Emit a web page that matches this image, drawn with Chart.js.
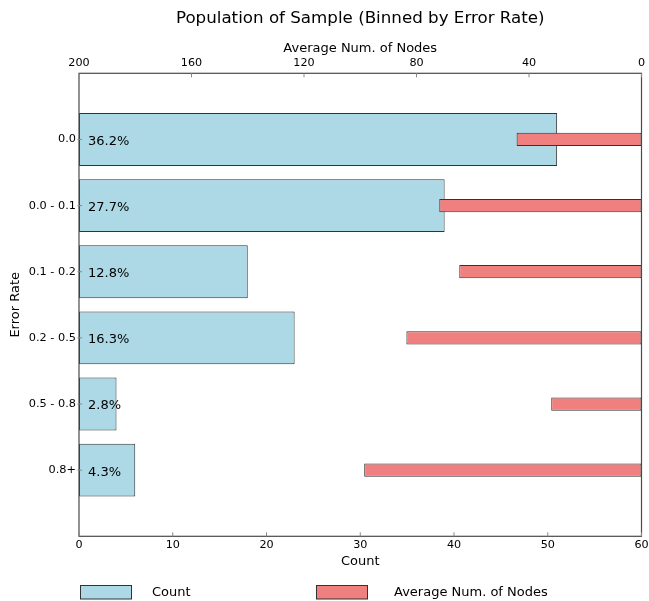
<!DOCTYPE html>
<html>
<head>
<meta charset="utf-8">
<script src="https://cdn.jsdelivr.net/npm/chart.js@4"></script>
<style>
  html, body { margin: 0; padding: 0; background: #fff; overflow: hidden; }
  canvas { display: block; }
</style>
</head>
<body>
<canvas id="popChart" width="649" height="601"></canvas>
<script>
const errorBins = ["0.0", "0.0 - 0.1", "0.1 - 0.2", "0.2 - 0.5", "0.5 - 0.8", "0.8+"];
const binCounts = [51, 39, 18, 23, 4, 6];
const avgNodes = [44.4, 71.9, 64.8, 83.6, 32.1, 98.6];
const countTicks = [0, 10, 20, 30, 40, 50, 60];
const nodeTicks = [200, 160, 120, 80, 40, 0];
const chartTitle = "Population of Sample (Binned by Error Rate)";

const FONT = "'DejaVu Sans', sans-serif";
const totalCount = binCounts.reduce((a, b) => a + b, 0);

// matplotlib-ish frame, inward ticks, title, percentage labels and legend
const extrasPlugin = {
  id: "extras",
  afterDatasetsDraw(chart) {
    const ctx = chart.ctx;
    const meta = chart.getDatasetMeta(0);
    ctx.save();
    ctx.font = "13px " + FONT;
    ctx.fillStyle = "#000";
    ctx.textBaseline = "middle";
    ctx.textAlign = "left";
    meta.data.forEach((bar, i) => {
      const pct = (binCounts[i] / totalCount * 100).toFixed(1) + "%";
      ctx.fillText(pct, chart.chartArea.left + 9, bar.y + 2);
    });
    ctx.restore();
  },
  afterDraw(chart) {
    const ctx = chart.ctx;
    const area = chart.chartArea;
    ctx.save();
    ctx.strokeStyle = "#4a4a4a";
    ctx.lineWidth = 1.2;
    ctx.strokeRect(area.left, area.top, area.right - area.left, area.bottom - area.top);

    ctx.lineWidth = 1;
    ctx.strokeStyle = "#888";
    ctx.beginPath();
    chart.scales.x.ticks.forEach(t => {
      const px = chart.scales.x.getPixelForValue(t.value);
      ctx.moveTo(px, area.bottom);
      ctx.lineTo(px, area.bottom - 4);
    });
    chart.scales.x2.ticks.forEach(t => {
      const px = chart.scales.x2.getPixelForValue(t.value);
      ctx.moveTo(px, area.top);
      ctx.lineTo(px, area.top + 4);
    });
    chart.scales.y.ticks.forEach(t => {
      const py = chart.scales.y.getPixelForValue(t.value);
      ctx.moveTo(area.left - 1.5, py);
      ctx.lineTo(area.left + 3, py);
    });
    ctx.stroke();

    // title over the plot centre
    ctx.fillStyle = "#000";
    ctx.font = "16.7px " + FONT;
    ctx.textAlign = "center";
    ctx.textBaseline = "middle";
    ctx.fillText(chartTitle, (area.left + area.right) / 2, 18.5);

    // legend
    const items = [
      { ds: chart.data.datasets[0], x: area.left + 1, gap: 20 },
      { ds: chart.data.datasets[1], x: area.left + 237, gap: 26 }
    ];
    ctx.font = "13px " + FONT;
    ctx.textAlign = "left";
    items.forEach(it => {
      ctx.fillStyle = it.ds.backgroundColor;
      ctx.strokeStyle = "#333";
      ctx.lineWidth = 1;
      ctx.fillRect(it.x, 585.5, 52, 13.5);
      ctx.strokeRect(it.x + 0.5, 585.5, 51, 13.5);
      ctx.fillStyle = "#000";
      ctx.fillText(it.ds.label, it.x + 52 + it.gap, 593);
    });
    ctx.restore();
  }
};

const ctx = document.getElementById("popChart").getContext("2d");
new Chart(ctx, {
  type: "bar",
  data: {
    datasets: [{
      label: "Count",
      data: binCounts.map((v, i) => ({ x: v, y: i })),
      xAxisID: "x",
      yAxisID: "y",
      backgroundColor: "#ADD8E6",
      borderColor: "#333333",
      borderWidth: 1,
      borderSkipped: false,
      grouped: false,
      categoryPercentage: 1,
      barPercentage: 0.8,
      order: 2
    }, {
      label: "Average Num. of Nodes",
      data: avgNodes.map((v, i) => ({ x: v, y: i })),
      xAxisID: "x2",
      yAxisID: "y",
      backgroundColor: "#F08080",
      borderColor: "#333333",
      borderWidth: 1,
      borderSkipped: false,
      grouped: false,
      categoryPercentage: 1,
      barPercentage: 0.2,
      order: 1
    }]
  },
  options: {
    indexAxis: "y",
    responsive: false,
    animation: false,
    layout: { autoPadding: false, padding: { left: 0, right: 7.5, top: 0, bottom: 0 } },
    plugins: {
      legend: { display: false },
      tooltip: { enabled: false },
      title: { display: false }
    },
    scales: {
      y: {
        type: "linear",
        position: "left",
        reverse: true,
        offset: false,
        min: -1,
        max: 6,
        afterBuildTicks: axis => { axis.ticks = errorBins.map((_, i) => ({ value: i })); },
        afterFit: scale => { scale.width = 79; scale.paddingTop = 0; scale.paddingBottom = 0; },
        ticks: {
          color: "#000",
          font: { family: FONT, size: 11.3 },
          padding: 3,
          callback: v => errorBins[v]
        },
        grid: { display: false, drawTicks: false, offset: false },
        border: { display: false },
        title: {
          display: true,
          text: "Error Rate",
          color: "#000",
          font: { family: FONT, size: 13 },
          padding: { top: 7.5, bottom: 0 }
        }
      },
      x: {
        type: "linear",
        position: "bottom",
        min: 0,
        max: 60,
        afterBuildTicks: axis => { axis.ticks = countTicks.map(v => ({ value: v })); },
        afterFit: scale => { scale.height = 64.7; scale.paddingLeft = 0; scale.paddingRight = 0; },
        ticks: {
          color: "#000",
          font: { family: FONT, size: 11.2 },
          padding: 2.5,
          maxRotation: 0
        },
        grid: { display: false, drawTicks: false },
        border: { display: false },
        title: {
          display: true,
          text: "Count",
          color: "#000",
          font: { family: FONT, size: 13 },
          padding: { top: 0, bottom: 32 }
        }
      },
      x2: {
        type: "linear",
        position: "top",
        reverse: true,
        min: 0,
        max: 200,
        afterBuildTicks: axis => { axis.ticks = nodeTicks.map(v => ({ value: v })); },
        afterFit: scale => { scale.height = 73.3; scale.paddingLeft = 0; scale.paddingRight = 0; },
        ticks: {
          color: "#000",
          font: { family: FONT, size: 11.2 },
          padding: 3.5,
          maxRotation: 0
        },
        grid: { display: false, drawTicks: false },
        border: { display: false },
        title: {
          display: true,
          text: "Average Num. of Nodes",
          color: "#000",
          font: { family: FONT, size: 13 },
          padding: { top: 41, bottom: 0 }
        }
      }
    }
  },
  plugins: [extrasPlugin]
});
</script>
</body>
</html>
